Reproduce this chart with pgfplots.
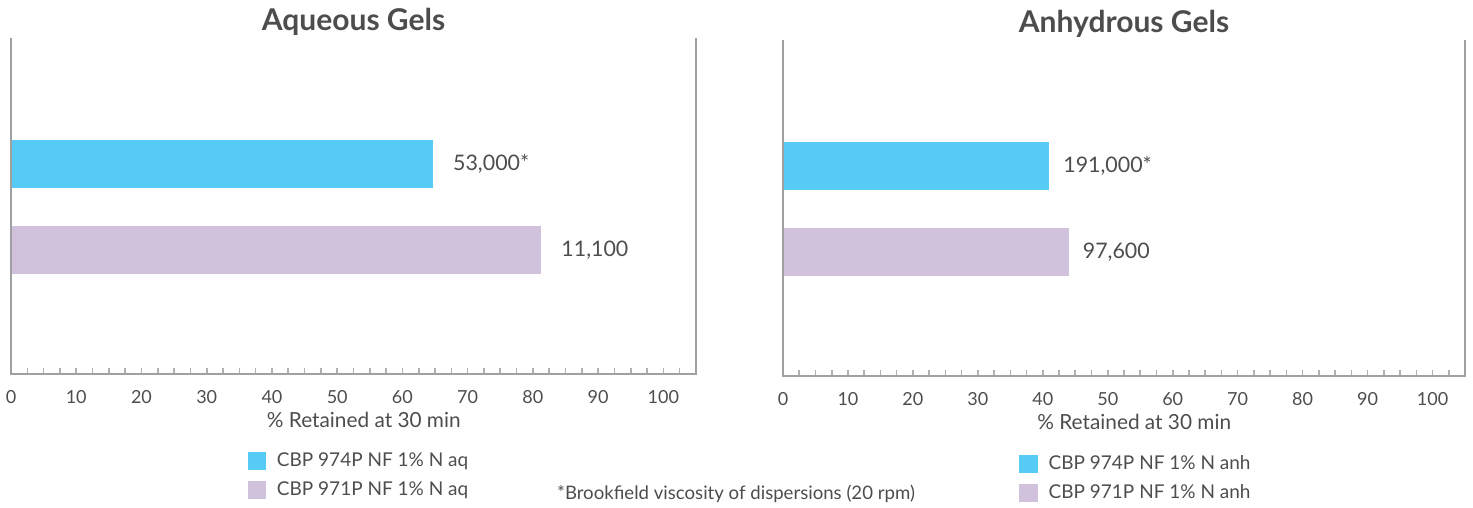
\documentclass[border=0pt]{standalone}
\usepackage{pgfplots}
\pgfplotsset{compat=1.18}
\usepackage{fontspec}
\setmainfont{Lato}
\definecolor{barblue}{HTML}{56CBF5}
\definecolor{barlav}{HTML}{D0C2DC}
\definecolor{axgray}{HTML}{A0A0A0}
\definecolor{tickgray}{HTML}{B0B0B0}
\definecolor{txt}{HTML}{4D4D4D}
\pgfplotsset{
  sqleg/.style={legend image code/.code={\fill[##1] (0pt,-4.6pt) rectangle (9.2pt,4.6pt);}},
  gelaxis/.style={
    scale only axis,
    height=168pt,
    xmin=0, xmax=105, ymin=-0.44, ymax=3.47,
    xbar, bar width=24pt, bar shift=0pt,
    axis line style={draw=none},
    after end axis/.code={\draw[axgray, line width=1.3pt] (rel axis cs:0,1) -- (rel axis cs:0,0) -- (rel axis cs:1,0) -- (rel axis cs:1,1);},
    xtick={0,10,...,100}, ytick=\empty,
    major tick length=3pt,
    minor xtick={2.5,5,7.5,12.5,15,17.5,22.5,25,27.5,32.5,35,37.5,42.5,45,47.5,52.5,55,57.5,62.5,65,67.5,72.5,75,77.5,82.5,85,87.5,92.5,95,97.5,102.5},
    minor tick length=3pt,
    tick align=inside, xtick pos=left,
    every major tick/.style={tickgray, line width=0.8pt},
    every minor tick/.style={tickgray, line width=0.8pt},
    /pgf/number format/assume math mode=true,
    xticklabel style={font=\fontsize{9}{10}\selectfont, text=txt, yshift=-4.5pt},
    xlabel={\% Retained at 30 min},
    xlabel style={font=\fontsize{10.4}{12}\selectfont, text=txt, at={(axis description cs:0.515,0)}, anchor=base, yshift=-27pt},
    title style={font=\fontsize{15}{17}\selectfont\bfseries, text=txt, at={(axis description cs:0.5,1)}, anchor=base, yshift=-2.2pt},
    point meta=explicit symbolic,
    nodes near coords,
    nodes near coords align={horizontal},
    every node near coord/.append style={font=\fontsize{10.7}{12}\selectfont, text=txt, anchor=west},
    legend cell align=left,
    legend style={draw=none, fill=none, font=\fontsize{9.5}{11}\selectfont, text=txt, anchor=north west,
      row sep=3pt, nodes={inner sep=1.5pt}, /tikz/every odd column/.style={column sep=4pt}},
  }
}
\begin{document}
\begin{tikzpicture}
\useasboundingbox (0,0) rectangle (736.5pt,254pt);
\begin{axis}[gelaxis, width=342.5pt, at={(5.5pt,67pt)}, anchor=south west,
  title={Aqueous Gels},
  every node near coord/.append style={xshift=6.5pt},
  legend style={at={(axis description cs:0.336,-0.212)}}]
\addplot[fill=barblue, draw=none, sqleg] table[x=val, y=pos, meta=lab, row sep=\\] {
val pos lab \\
64.7 2 53,000* \\
};
\addlegendentry{CBP 974P NF 1\% N aq}
\addplot[fill=barlav, draw=none, sqleg] table[x=val, y=pos, meta=lab, row sep=\\] {
val pos lab \\
81.3 1 11,100 \\
};
\addlegendentry{CBP 971P NF 1\% N aq}
\end{axis}
\begin{axis}[gelaxis, width=341pt, at={(391.5pt,66pt)}, anchor=south west,
  title={Anhydrous Gels},
  every node near coord/.append style={xshift=3.5pt},
  legend style={at={(axis description cs:0.337,-0.215)}}]
\addplot[fill=barblue, draw=none, sqleg] table[x=val, y=pos, meta=lab, row sep=\\] {
val pos lab \\
41.0 2 191,000* \\
};
\addlegendentry{CBP 974P NF 1\% N anh}
\addplot[fill=barlav, draw=none, sqleg] table[x=val, y=pos, meta=lab, row sep=\\] {
val pos lab \\
44.0 1 97,600 \\
};
\addlegendentry{CBP 971P NF 1\% N anh}
\end{axis}
\node[font=\fontsize{9.3}{11}\selectfont, text=txt] at (368pt,7pt) {*Brookfield viscosity of dispersions (20 rpm)};
\end{tikzpicture}
\end{document}
